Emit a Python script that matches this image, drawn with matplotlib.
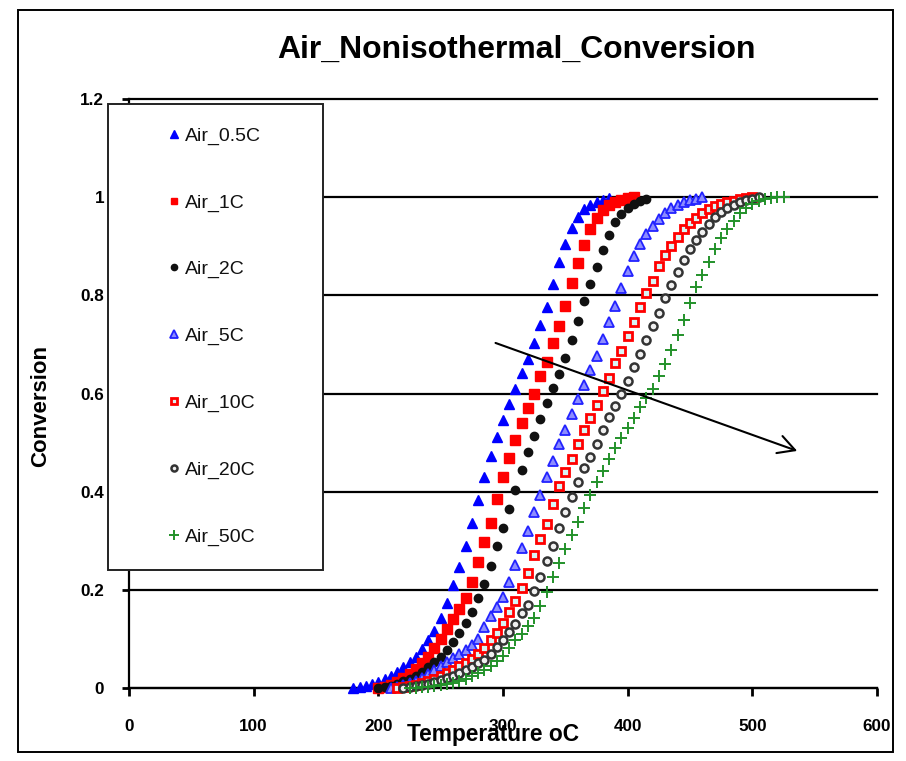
import matplotlib
matplotlib.use("Agg")
import matplotlib.pyplot as plt
from matplotlib.patches import Rectangle
from matplotlib import font_manager

# ---------------------------------------------------------------- data
temp_05C = [180, 185, 190, 195, 200, 205, 210, 215, 220, 225, 230, 235, 240, 245,
            250, 255, 260, 265, 270, 275, 280, 285, 290, 295, 300, 305, 310, 315,
            320, 325, 330, 335, 340, 345, 350, 355, 360, 365, 370, 375, 380, 385]
conv_05C = [0.000, 0.002, 0.004, 0.008, 0.012, 0.018, 0.025, 0.033, 0.043, 0.053,
            0.064, 0.080, 0.098, 0.116, 0.142, 0.173, 0.210, 0.246, 0.290, 0.336,
            0.383, 0.430, 0.472, 0.511, 0.546, 0.578, 0.609, 0.641, 0.670, 0.703,
            0.739, 0.776, 0.824, 0.868, 0.905, 0.937, 0.960, 0.975, 0.984, 0.990,
            0.995, 0.998]

temp_1C = [200, 205, 210, 215, 220, 225, 230, 235, 240, 245, 250, 255, 260, 265,
           270, 275, 280, 285, 290, 295, 300, 305, 310, 315, 320, 325, 330, 335,
           340, 345, 350, 355, 360, 365, 370, 375, 380, 385, 390, 395, 400, 405]
conv_1C = [0.000, 0.002, 0.006, 0.013, 0.021, 0.029, 0.039, 0.050, 0.064, 0.081,
           0.100, 0.120, 0.140, 0.160, 0.183, 0.216, 0.257, 0.298, 0.336, 0.385,
           0.430, 0.468, 0.505, 0.540, 0.570, 0.600, 0.635, 0.665, 0.703, 0.737,
           0.778, 0.825, 0.866, 0.902, 0.935, 0.958, 0.974, 0.984, 0.990, 0.995,
           0.998, 1.000]

temp_2C = [200, 205, 210, 215, 220, 225, 230, 235, 240, 245, 250, 255, 260, 265,
           270, 275, 280, 285, 290, 295, 300, 305, 310, 315, 320, 325, 330, 335,
           340, 345, 350, 355, 360, 365, 370, 375, 380, 385, 390, 395, 400, 405,
           410, 415]
conv_2C = [0.000, 0.002, 0.005, 0.009, 0.014, 0.019, 0.025, 0.033, 0.042, 0.052,
           0.064, 0.078, 0.094, 0.112, 0.132, 0.155, 0.183, 0.212, 0.248, 0.290,
           0.325, 0.364, 0.403, 0.445, 0.480, 0.514, 0.548, 0.580, 0.612, 0.640,
           0.672, 0.708, 0.748, 0.788, 0.824, 0.858, 0.892, 0.923, 0.950, 0.966,
           0.978, 0.987, 0.992, 0.996]

temp_5C = [210, 215, 220, 225, 230, 235, 240, 245, 250, 255, 260, 265, 270, 275,
           280, 285, 290, 295, 300, 305, 310, 315, 320, 325, 330, 335, 340, 345,
           350, 355, 360, 365, 370, 375, 380, 385, 390, 395, 400, 405, 410, 415,
           420, 425, 430, 435, 440, 445, 450, 455, 460]
conv_5C = [0.000, 0.003, 0.006, 0.010, 0.015, 0.021, 0.028, 0.036, 0.045, 0.053,
           0.062, 0.070, 0.078, 0.088, 0.100, 0.125, 0.146, 0.165, 0.186, 0.216,
           0.250, 0.285, 0.320, 0.358, 0.394, 0.430, 0.463, 0.497, 0.525, 0.558,
           0.588, 0.617, 0.648, 0.677, 0.712, 0.745, 0.778, 0.815, 0.850, 0.880,
           0.904, 0.925, 0.941, 0.956, 0.968, 0.978, 0.985, 0.990, 0.994, 0.997,
           1.000]

temp_10C = [215, 220, 225, 230, 235, 240, 245, 250, 255, 260, 265, 270, 275, 280,
            285, 290, 295, 300, 305, 310, 315, 320, 325, 330, 335, 340, 345, 350,
            355, 360, 365, 370, 375, 380, 385, 390, 395, 400, 405, 410, 415, 420,
            425, 430, 435, 440, 445, 450, 455, 460, 465, 470, 475, 480, 485, 490,
            495, 500]
conv_10C = [0.000, 0.002, 0.004, 0.007, 0.010, 0.014, 0.019, 0.025, 0.031, 0.037,
            0.044, 0.051, 0.060, 0.070, 0.082, 0.098, 0.113, 0.132, 0.155, 0.177,
            0.204, 0.234, 0.270, 0.303, 0.335, 0.375, 0.412, 0.441, 0.466, 0.498,
            0.525, 0.550, 0.577, 0.605, 0.632, 0.662, 0.686, 0.717, 0.746, 0.776,
            0.805, 0.830, 0.859, 0.882, 0.901, 0.918, 0.935, 0.947, 0.958, 0.968,
            0.976, 0.981, 0.986, 0.990, 0.993, 0.996, 0.998, 1.000]

temp_20C = [220, 225, 230, 235, 240, 245, 250, 255, 260, 265, 270, 275, 280, 285,
            290, 295, 300, 305, 310, 315, 320, 325, 330, 335, 340, 345, 350, 355,
            360, 365, 370, 375, 380, 385, 390, 395, 400, 405, 410, 415, 420, 425,
            430, 435, 440, 445, 450, 455, 460, 465, 470, 475, 480, 485, 490, 495,
            500, 505]
conv_20C = [0.000, 0.002, 0.004, 0.006, 0.009, 0.012, 0.016, 0.020, 0.025, 0.030,
            0.036, 0.043, 0.050, 0.058, 0.070, 0.083, 0.097, 0.114, 0.130, 0.152,
            0.170, 0.198, 0.226, 0.258, 0.290, 0.326, 0.358, 0.390, 0.420, 0.448,
            0.471, 0.498, 0.525, 0.552, 0.574, 0.600, 0.626, 0.654, 0.680, 0.708,
            0.737, 0.765, 0.795, 0.821, 0.847, 0.871, 0.894, 0.913, 0.930, 0.946,
            0.960, 0.969, 0.977, 0.984, 0.990, 0.994, 0.997, 1.000]

temp_50C = [225, 230, 235, 240, 245, 250, 255, 260, 265, 270, 275, 280, 285, 290,
            295, 300, 305, 310, 315, 320, 325, 330, 335, 340, 345, 350, 355, 360,
            365, 370, 375, 380, 385, 390, 395, 400, 405, 410, 415, 420, 425, 430,
            435, 440, 445, 450, 455, 460, 465, 470, 475, 480, 485, 490, 495, 500,
            505, 510, 515, 520, 525]
conv_50C = [0.000, 0.001, 0.002, 0.003, 0.005, 0.007, 0.009, 0.011, 0.015, 0.019,
            0.024, 0.031, 0.037, 0.045, 0.056, 0.066, 0.081, 0.097, 0.110, 0.127,
            0.143, 0.168, 0.196, 0.226, 0.255, 0.283, 0.312, 0.338, 0.367, 0.394,
            0.420, 0.443, 0.467, 0.489, 0.509, 0.530, 0.550, 0.572, 0.590, 0.610,
            0.635, 0.661, 0.688, 0.719, 0.749, 0.784, 0.816, 0.842, 0.868, 0.895,
            0.917, 0.936, 0.952, 0.967, 0.978, 0.987, 0.992, 0.996, 0.999, 1.000,
            1.000]

series_labels = ["Air_0.5C", "Air_1C", "Air_2C", "Air_5C", "Air_10C", "Air_20C", "Air_50C"]
x_ticks = [0, 100, 200, 300, 400, 500, 600]
y_ticks = [0, 0.2, 0.4, 0.6, 0.8, 1.0, 1.2]
y_tick_labels = ["0", "0.2", "0.4", "0.6", "0.8", "1", "1.2"]

# ---------------------------------------------------------------- fonts
installed = {f.name for f in font_manager.fontManager.ttflist}
if "Liberation Sans Narrow" in installed:
    bold_family = ["Liberation Sans Narrow", "DejaVu Sans"]
    narrow = True
else:
    bold_family = ["Liberation Sans", "DejaVu Sans"]
    narrow = False
plt.rcParams["font.family"] = ["Liberation Sans", "DejaVu Sans"]

k = 1.0 if narrow else 0.82
title_size = 28 * k
tick_size = 15.0 * k
xlabel_size = 20 * k
ylabel_size = 19.5 * k

# ---------------------------------------------------------------- figure
W, H = 906, 761
fig = plt.figure(figsize=(W / 100, H / 100), dpi=100)
ax = fig.add_axes([129 / W, 1 - 688 / H, (877 - 129) / W, (688 - 99) / H])

styles = [
    dict(marker="^", ms=6.8, mfc="#0000ff", mec="#0000ff", mew=1.0),
    dict(marker="s", ms=6.5, mfc="#ff0000", mec="#ff0000", mew=1.0),
    dict(marker="o", ms=6.0, mfc="#111111", mec="#111111", mew=1.0),
    dict(marker="^", ms=6.8, mfc="#8c8cff", mec="#2222ff", mew=1.3),
    dict(marker="s", ms=6.0, mfc="#d8f4f4", mec="#ff0000", mew=2.0),
    dict(marker="o", ms=5.8, mfc="#f0f0f0", mec="#333333", mew=1.8),
    dict(marker="+", ms=9.0, mfc="#22922a", mec="#22922a", mew=1.4),
]
all_series = [(temp_05C, conv_05C), (temp_1C, conv_1C), (temp_2C, conv_2C),
              (temp_5C, conv_5C), (temp_10C, conv_10C), (temp_20C, conv_20C),
              (temp_50C, conv_50C)]

handles = []
for (t, c), st, lab in zip(all_series, styles, series_labels):
    h, = ax.plot(t, c, linestyle="none", label=lab, zorder=3, clip_on=False, **st)
    handles.append(h)

ax.set_xlim(0, 600)
ax.set_ylim(0, 1.2)
ax.set_xticks(x_ticks)
ax.set_xticklabels([str(v) for v in x_ticks])
ax.set_yticks(y_ticks)
ax.set_yticklabels(y_tick_labels)

for lab in ax.get_xticklabels() + ax.get_yticklabels():
    lab.set_fontfamily(bold_family)
    lab.set_fontweight("bold")
    lab.set_fontsize(tick_size)

ax.tick_params(axis="x", direction="out", length=6, width=2, pad=16, colors="black")
ax.tick_params(axis="y", direction="out", length=5, width=2, pad=13, colors="black")

for side in ("top", "right"):
    ax.spines[side].set_visible(False)
for side in ("left", "bottom"):
    ax.spines[side].set_linewidth(1.6)
    ax.spines[side].set_color("black")

ax.yaxis.grid(True, color="black", linewidth=1.6)
for gl in ax.get_ygridlines():
    gl.set_clip_on(False)
ax.set_axisbelow(True)

ax.set_xlabel("Temperature oC", fontfamily=bold_family, fontweight="bold",
              fontsize=xlabel_size, va="center")
ax.xaxis.set_label_coords((493 - 129) / (877 - 129), -(735 - 688) / (688 - 99))
ax.set_ylabel("Conversion", fontfamily=bold_family, fontweight="bold",
              fontsize=ylabel_size, va="center")
ax.yaxis.set_label_coords(-(129 - 41) / (877 - 129), (688 - 406) / (688 - 99))

fig.text(516 / W, 1 - 50 / H, "Air_Nonisothermal_Conversion", ha="center", va="center",
         fontfamily=bold_family, fontweight="bold", fontsize=title_size)

# trend arrow across the heating rates
ax.annotate("", xy=(536, 0.483), xytext=(294, 0.703),
            arrowprops=dict(arrowstyle="->,head_length=1.2,head_width=0.65",
                            mutation_scale=10, lw=1.5, color="black",
                            shrinkA=0, shrinkB=0), zorder=4)

# legend box
ax_w, ax_h = 877 - 129, 688 - 99
box = Rectangle(((108 - 129) / ax_w, (688 - 570) / ax_h), (323 - 108) / ax_w, (570 - 104) / ax_h,
                transform=ax.transAxes, facecolor="white", edgecolor="#222222",
                linewidth=1.4, zorder=5, clip_on=False)
ax.add_patch(box)
leg = ax.legend(handles=handles, loc="upper left",
                bbox_to_anchor=((167 - 129) / ax_w, (688 - 127) / ax_h),
                frameon=False, fontsize=14.0, labelspacing=2.52, handlelength=0.7,
                handletextpad=0.2, borderpad=0, borderaxespad=0, markerscale=0.75,
                numpoints=1)
leg.set_zorder(6)
for txt in leg.get_texts():
    txt.set_color("#111111")

# outer chart frame
fig.patches.append(Rectangle((18 / W, 1 - 752 / H), (893 - 18) / W, (752 - 10) / H,
                             transform=fig.transFigure, fill=False, edgecolor="black",
                             linewidth=1.4))

fig.savefig("out.png", dpi=100)
